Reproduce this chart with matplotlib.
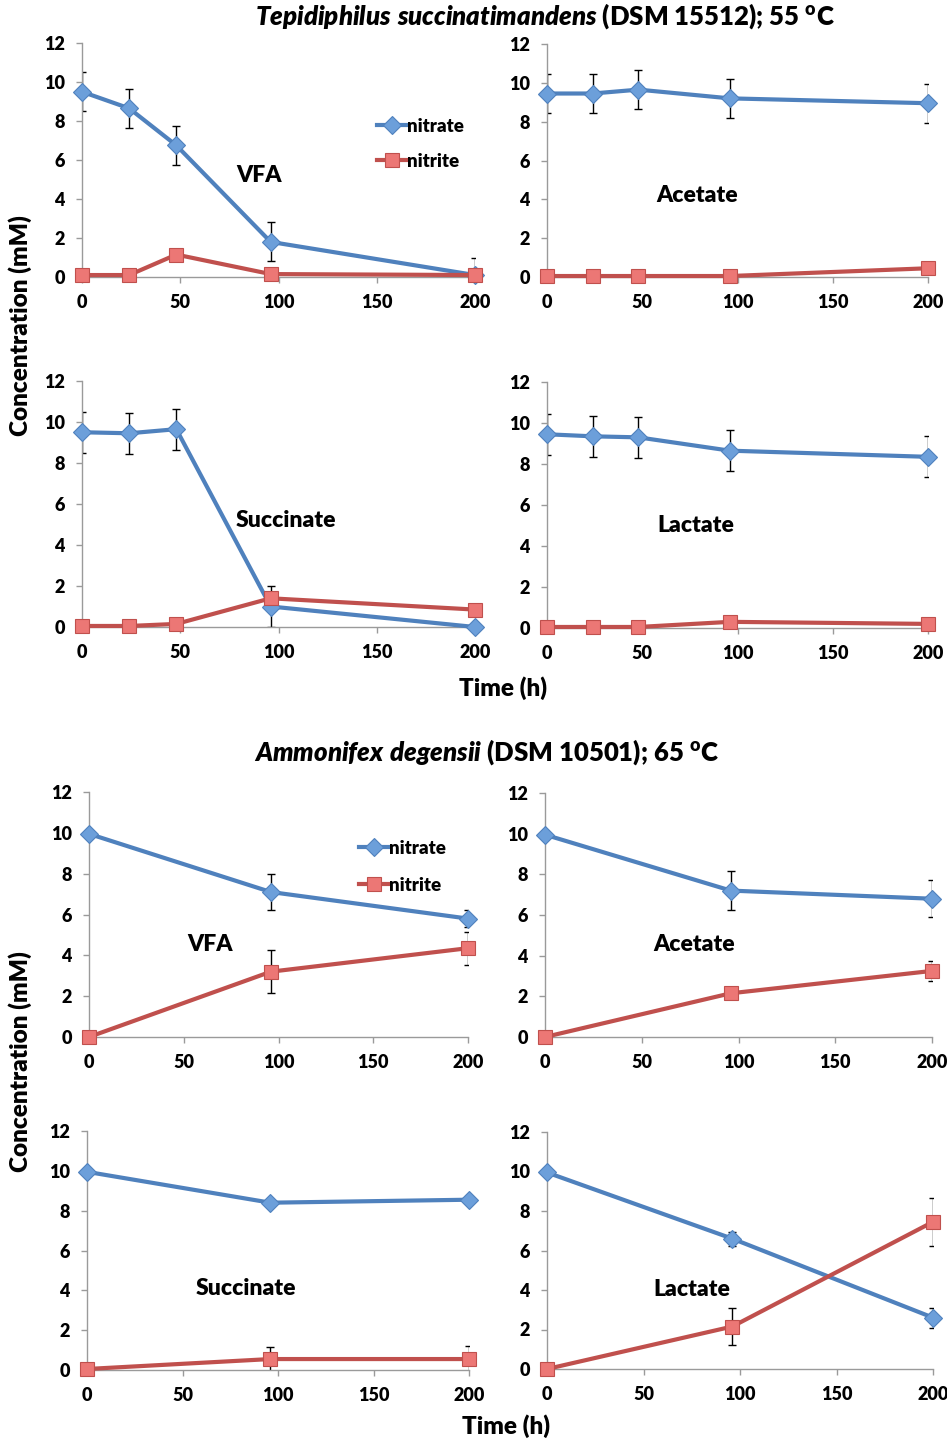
import matplotlib
matplotlib.use('Agg')
import matplotlib.pyplot as plt

WEIGHT = 'heavy'
plt.rcParams['font.family'] = ['Lato', 'DejaVu Sans']
plt.rcParams['font.weight'] = WEIGHT
plt.rcParams['mathtext.fontset'] = 'custom'
plt.rcParams['mathtext.it'] = 'Lato:italic:heavy'
plt.rcParams['mathtext.rm'] = 'Lato:heavy'
plt.rcParams['mathtext.bf'] = 'Lato:heavy'

# ---- Tepidiphilus succinatimandens, 55 C ----
t_tep = [0, 24, 48, 96, 200]

tep_vfa_nitrate = [9.5, 8.65, 6.75, 1.8, 0.1]
tep_vfa_nitrate_err = [1.0, 1.0, 1.0, 1.0, 0.9]
tep_vfa_nitrite = [0.1, 0.1, 1.15, 0.15, 0.1]

tep_ace_nitrate = [9.45, 9.45, 9.65, 9.2, 8.95]
tep_ace_nitrate_err = [1.0, 1.0, 1.0, 1.0, 1.0]
tep_ace_nitrite = [0.05, 0.05, 0.05, 0.05, 0.45]

tep_suc_nitrate = [9.5, 9.45, 9.65, 1.0, 0.0]
tep_suc_nitrate_err = [1.0, 1.0, 1.0, 1.0, 0.0]
tep_suc_nitrite = [0.05, 0.05, 0.15, 1.4, 0.85]

tep_lac_nitrate = [9.45, 9.35, 9.3, 8.65, 8.35]
tep_lac_nitrate_err = [1.0, 1.0, 1.0, 1.0, 1.0]
tep_lac_nitrite = [0.05, 0.05, 0.05, 0.3, 0.2]

# ---- Ammonifex degensii, 65 C ----
t_amm = [0, 96, 200]

amm_vfa_nitrate = [9.95, 7.1, 5.8]
amm_vfa_nitrate_err = [0.0, 0.9, 0.4]
amm_vfa_nitrite = [0.0, 3.2, 4.35]
amm_vfa_nitrite_err = [0.0, 1.05, 0.8]

amm_ace_nitrate = [9.95, 7.2, 6.8]
amm_ace_nitrate_err = [0.0, 0.95, 0.9]
amm_ace_nitrite = [0.0, 2.15, 3.25]
amm_ace_nitrite_err = [0.0, 0.0, 0.5]

amm_suc_nitrate = [9.95, 8.4, 8.55]
amm_suc_nitrite = [0.05, 0.55, 0.55]
amm_suc_nitrite_err = [0.0, 0.6, 0.65]

amm_lac_nitrate = [9.95, 6.6, 2.6]
amm_lac_nitrate_err = [0.0, 0.35, 0.5]
amm_lac_nitrite = [0.0, 2.15, 7.45]
amm_lac_nitrite_err = [0.0, 0.95, 1.2]

BLUE = '#4F81BD'
BLUE_FILL = '#6C9FDA'
RED = '#C0504D'
RED_FILL = '#EC7775'

W, H = 947, 1443
fig = plt.figure(figsize=(W / 100, H / 100), dpi=100)


def box(x0, y0, x1, y1):
    # pixel box (top-left origin) -> figure fraction rect
    return [x0 / W, 1 - y1 / H, (x1 - x0) / W, (y1 - y0) / H]


def panel(rect, t, nitrate, nitrite, label, lab_xy,
          nitrate_err=None, nitrite_err=None):
    ax = fig.add_axes(box(*rect))
    ax.set_xlim(0, 200)
    ax.set_ylim(0, 12)
    for s in ['top', 'right']:
        ax.spines[s].set_visible(False)
    for s in ['left', 'bottom']:
        ax.spines[s].set_color('#9a9a9a')
        ax.spines[s].set_linewidth(1.0)
    ax.set_xticks([0, 50, 100, 150, 200])
    ax.set_yticks([0, 2, 4, 6, 8, 10, 12])
    ax.tick_params(direction='out', length=4.5, width=1.0, color='#9a9a9a',
                   labelsize=13, pad=8)
    for lb in ax.get_xticklabels() + ax.get_yticklabels():
        lb.set_fontweight(WEIGHT)

    if nitrate_err is not None:
        ax.errorbar(t, nitrate, yerr=nitrate_err, fmt='none', ecolor='black',
                    elinewidth=1.0, capsize=2.7, capthick=1.0, zorder=2)
    if nitrite_err is not None:
        ax.errorbar(t, nitrite, yerr=nitrite_err, fmt='none', ecolor='black',
                    elinewidth=1.0, capsize=2.7, capthick=1.0, zorder=2)
    ax.plot(t, nitrate, color=BLUE, lw=3.0, marker='D', ms=9,
            mfc=BLUE_FILL, mec=BLUE, mew=0.8, clip_on=False, zorder=3,
            label='nitrate')
    ax.plot(t, nitrite, color=RED, lw=3.0, marker='s', ms=10,
            mfc=RED_FILL, mec=RED, mew=0.8, clip_on=False, zorder=4,
            label='nitrite')
    ax.text(lab_xy[0], lab_xy[1], label, fontsize=16.5, fontweight=WEIGHT,
            ha='center', va='center')
    return ax


def add_legend(ax, px, py, spacing):
    leg = ax.legend(loc='upper left', bbox_to_anchor=(px / W, 1 - py / H),
                    bbox_transform=fig.transFigure, frameon=False,
                    fontsize=13.5, handlelength=1.55, handletextpad=0.05,
                    labelspacing=spacing, borderpad=0, borderaxespad=0)
    for txt in leg.get_texts():
        txt.set_fontweight(WEIGHT)


# top group
ax = panel((82, 43, 475, 277), t_tep, tep_vfa_nitrate, tep_vfa_nitrite,
           'VFA', (90, 5.2), nitrate_err=tep_vfa_nitrate_err)
add_legend(ax, 377, 118, 0.95)
panel((547, 44, 928, 277), t_tep, tep_ace_nitrate, tep_ace_nitrite,
      'Acetate', (79, 4.2), nitrate_err=tep_ace_nitrate_err)
panel((82, 381, 475, 627), t_tep, tep_suc_nitrate, tep_suc_nitrite,
      'Succinate', (104, 5.2), nitrate_err=tep_suc_nitrate_err)
panel((547, 382, 928, 628), t_tep, tep_lac_nitrate, tep_lac_nitrite,
      'Lactate', (78, 5.0), nitrate_err=tep_lac_nitrate_err)

# bottom group
ax = panel((89, 792, 468, 1037), t_amm, amm_vfa_nitrate, amm_vfa_nitrite,
           'VFA', (64, 4.55), nitrate_err=amm_vfa_nitrate_err,
           nitrite_err=amm_vfa_nitrite_err)
add_legend(ax, 359, 840, 1.05)
panel((545, 793, 932, 1037), t_amm, amm_ace_nitrate, amm_ace_nitrite,
      'Acetate', (77, 4.55), nitrate_err=amm_ace_nitrate_err,
      nitrite_err=amm_ace_nitrite_err)
panel((87, 1131, 469, 1370), t_amm, amm_suc_nitrate, amm_suc_nitrite,
      'Succinate', (83, 4.07), nitrite_err=amm_suc_nitrite_err)
panel((547, 1132, 933, 1369), t_amm, amm_lac_nitrate, amm_lac_nitrite,
      'Lactate', (75, 4.05), nitrate_err=amm_lac_nitrate_err,
      nitrite_err=amm_lac_nitrite_err)

# titles and shared axis labels
fig.text(545 / W, 1 - 16 / H,
         r'$\mathit{Tepidiphilus\ succinatimandens}$ (DSM 15512); 55 $^{\mathrm{o}}$C',
         ha='center', va='center', fontsize=18.5, fontweight=WEIGHT)
fig.text(487 / W, 1 - 752 / H,
         r'$\mathit{Ammonifex\ degensii}$ (DSM 10501); 65 $^{\mathrm{o}}$C',
         ha='center', va='center', fontsize=18.5, fontweight=WEIGHT)

fig.text(20 / W, 1 - 326 / H, 'Concentration (mM)', rotation=90,
         ha='center', va='center', fontsize=17.5, fontweight=WEIGHT)
fig.text(20 / W, 1 - 1062 / H, 'Concentration (mM)', rotation=90,
         ha='center', va='center', fontsize=17.5, fontweight=WEIGHT)
fig.text(503 / W, 1 - 688 / H, 'Time (h)', ha='center', va='center',
         fontsize=17.5, fontweight=WEIGHT)
fig.text(506 / W, 1 - 1426 / H, 'Time (h)', ha='center', va='center',
         fontsize=17.5, fontweight=WEIGHT)

fig.savefig('out.png', dpi=100)
